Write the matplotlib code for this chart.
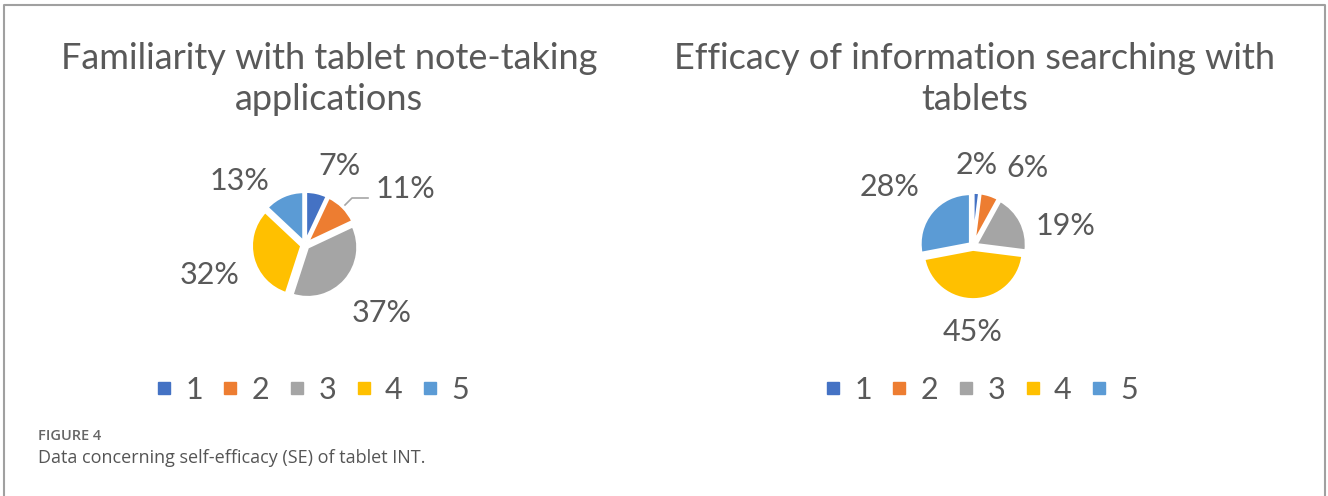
import numpy as np
import matplotlib
matplotlib.use("Agg")
import matplotlib.pyplot as plt
from matplotlib.lines import Line2D

# rating categories and the share of answers per category (percent)
categories = ["1", "2", "3", "4", "5"]
familiarity = [7, 11, 37, 32, 13]
searching = [2, 6, 19, 45, 28]

titles = ["Familiarity with tablet note-taking\napplications",
          "Efficacy of information searching with\ntablets"]

colors = ["#4472C4", "#ED7D31", "#A5A5A5", "#FFC000", "#5B9BD5"]
text_color = "#595959"

# label offsets in pie-radius units (x, y from the pie centre)
label_pos_1 = [(0.68, 1.58), (2.0, 1.12), (1.54, -1.36), (-1.9, -0.6), (-1.3, 1.28)]
label_pos_2 = [(0.08, 1.62), (1.08, 1.56), (1.86, 0.4), (0.0, -1.72), (-1.66, 1.18)]

W, H = 1328, 496
fig = plt.figure(figsize=(W / 100, H / 100), dpi=100)
fig.patch.set_facecolor("white")

# light frame round the panel (open at the bottom)
fig.add_artist(Line2D([4 / W, 4 / W, 1325 / W, 1325 / W], [0, 1 - 5 / H, 1 - 5 / H, 0],
                      transform=fig.transFigure, color="#a0a0a0", lw=1.5))


def draw_pie(cx, cy, values, title, title_x, legend_x, label_pos, leader=None):
    r = 50.0
    half = 160
    ax = fig.add_axes([(cx - half) / W, 1 - (cy + half) / H, 2 * half / W, 2 * half / H])
    ax.pie(values, colors=colors, startangle=90, counterclock=False, radius=1.0,
           explode=[0.07] * len(values),
           wedgeprops=dict(edgecolor="white", linewidth=2))
    lim = half / r
    ax.set_xlim(-lim, lim)
    ax.set_ylim(-lim, lim)
    ax.set_aspect("equal")
    ax.axis("off")
    for v, (lx, ly) in zip(values, label_pos):
        ax.text(lx, ly, f"{v}%", ha="center", va="center", fontsize=22,
                color=text_color, family="Lato")
    if leader is not None:
        xs, ys = zip(*leader)
        ax.plot(xs, ys, color="#a6a6a6", lw=1.2)

    fig.text(title_x / W, 1 - 79 / H, title, ha="center", va="center",
             fontsize=26, color=text_color, family="Lato", linespacing=1.3)

    handles = [Line2D([], [], marker="s", linestyle="none", markersize=8.5,
                      markerfacecolor=c, markeredgecolor=c) for c in colors]
    fig.legend(handles, categories, loc="center", ncol=5,
               bbox_to_anchor=(legend_x / W, 1 - 390 / H), frameon=False,
               prop=dict(family="Lato", size=22), labelcolor=text_color,
               handlelength=0.6, handletextpad=0.4, columnspacing=0.6)


draw_pie(305, 245, familiarity, titles[0], 329, 312, label_pos_1,
         leader=[(0.8, 0.8), (0.94, 0.94), (1.26, 0.94)])
draw_pie(973, 246, searching, titles[1], 975, 981, label_pos_2)

fig.text(38 / W, 1 - 436 / H, "FIGURE 4", ha="left", va="center", fontsize=10.5,
         color="#666666", family="Open Sans", fontweight="semibold")
fig.text(38 / W, 1 - 458 / H, "Data concerning self-efficacy (SE) of tablet INT.",
         ha="left", va="center", fontsize=13, color="#555555", family="Open Sans")

fig.savefig("out.png", dpi=100, facecolor="white")
